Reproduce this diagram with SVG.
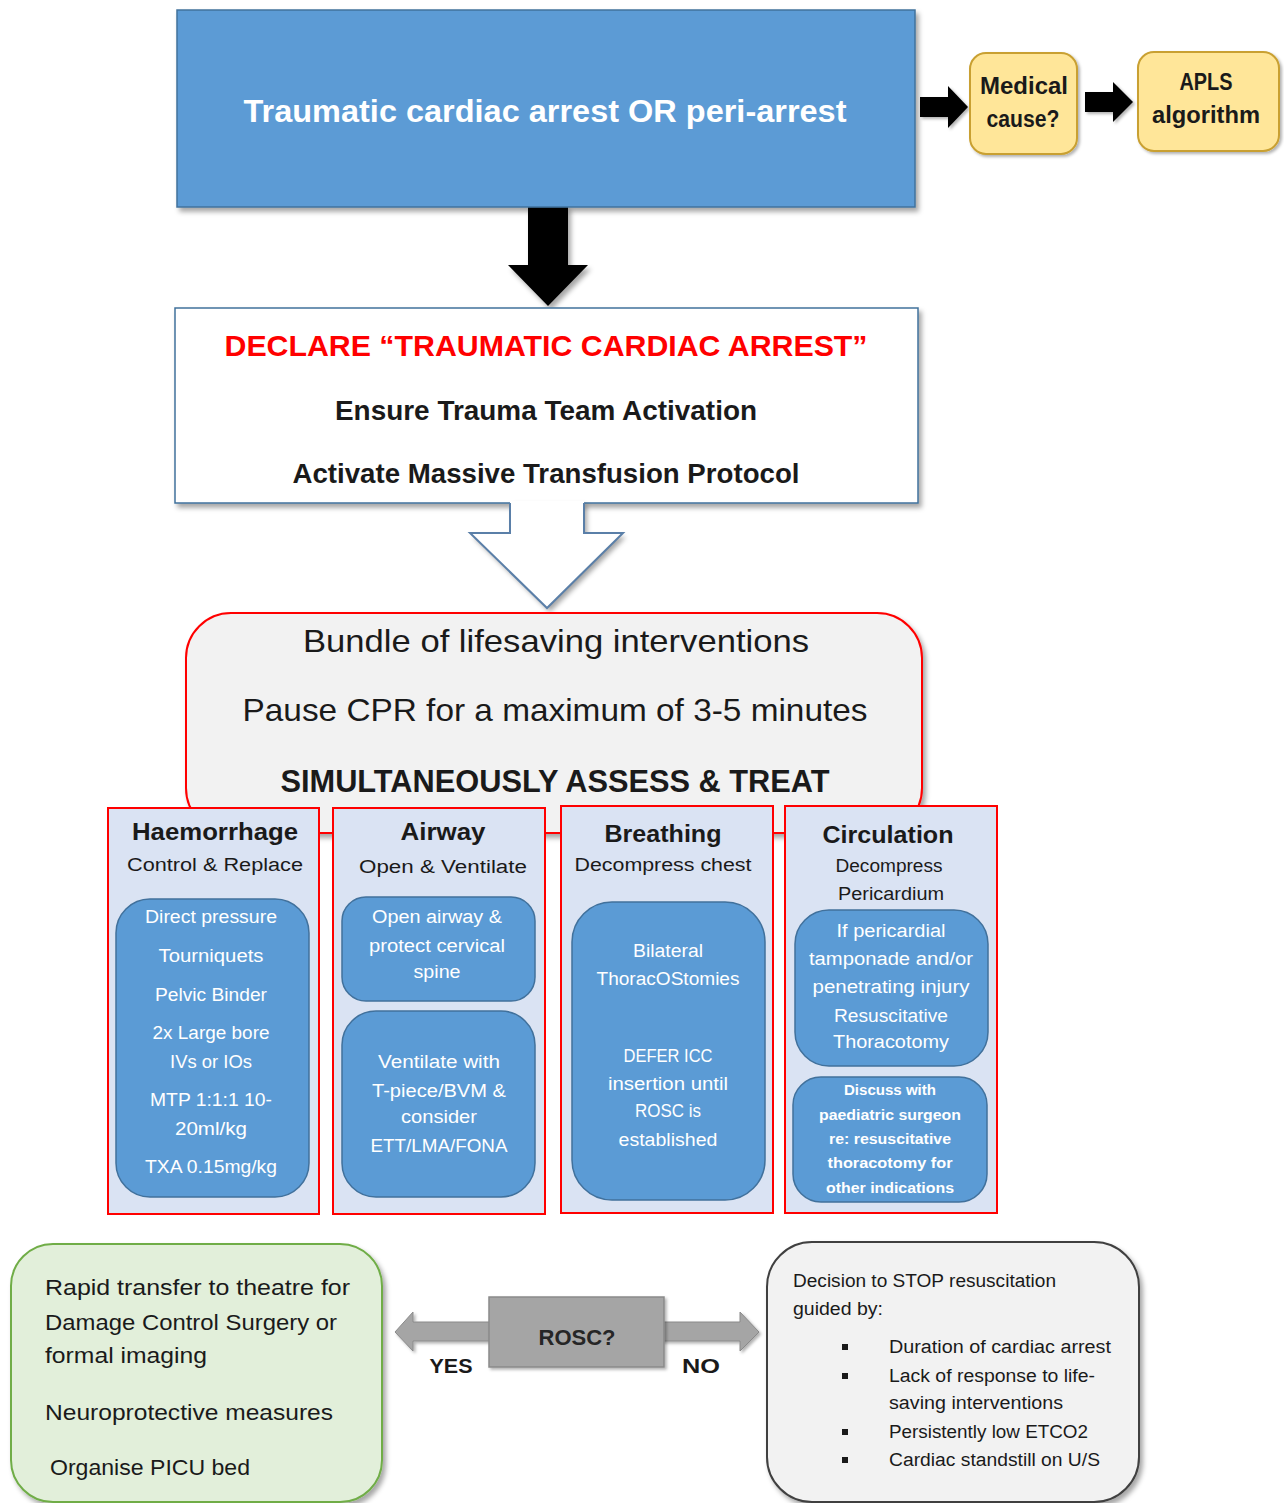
<svg xmlns="http://www.w3.org/2000/svg" width="1284" height="1503" viewBox="0 0 1284 1503">
<defs>
<filter id="sh" x="-10%" y="-10%" width="125%" height="130%"><feDropShadow dx="3" dy="4" stdDeviation="2.5" flood-color="#000" flood-opacity="0.35"/></filter>
<filter id="shs" x="-10%" y="-10%" width="125%" height="130%"><feDropShadow dx="2" dy="2" stdDeviation="1.5" flood-color="#000" flood-opacity="0.3"/></filter>
</defs>
<style>
text{font-family:"Liberation Sans",Arial,sans-serif;}
.b{font-weight:bold;}
.m{text-anchor:middle;}
.w{fill:#ffffff;}
.k{fill:#1a1a1a;}
.blue{fill:#5B9BD5;stroke:#41719C;stroke-width:1.5;}
.yel{fill:#FFE699;stroke:#C9A031;stroke-width:2;}
.col{fill:#DAE3F3;stroke:#FF0000;stroke-width:2;}
.inner{fill:#5B9BD5;stroke:#41719C;stroke-width:1.5;}
</style>
<rect x="0" y="0" width="1284" height="1503" fill="#ffffff"/>

<g id="connectors">
  <polygon points="528,206 568,206 568,265 588,265 548,306 508,265 528,265" fill="#000" filter="url(#sh)"/>
  <polygon points="920,97 948,97 948,86 968,107 948,128 948,117 920,117" fill="#000" filter="url(#shs)"/>
  <polygon points="1085,92 1113,92 1113,82 1133,102 1113,122 1113,112 1085,112" fill="#000" filter="url(#shs)"/>
</g>

<g id="node-traumatic">
  <rect x="177" y="10" width="738" height="197" class="blue" filter="url(#sh)"/>
  <text x="545" y="122" class="b m w" font-size="32" textLength="603" lengthAdjust="spacingAndGlyphs">Traumatic cardiac arrest OR peri-arrest</text>
</g>

<g id="node-medical">
  <rect x="970" y="53" width="107" height="101" rx="16" class="yel" filter="url(#shs)"/>
  <text x="1024" y="94" class="b m k" font-size="23" textLength="88" lengthAdjust="spacingAndGlyphs">Medical</text>
  <text x="1023" y="127" class="b m k" font-size="23" textLength="73" lengthAdjust="spacingAndGlyphs">cause?</text>
</g>

<g id="node-apls">
  <rect x="1138" y="52" width="141" height="99" rx="16" class="yel" filter="url(#shs)"/>
  <text x="1206" y="90" class="b m k" font-size="23" textLength="53" lengthAdjust="spacingAndGlyphs">APLS</text>
  <text x="1206" y="123" class="b m k" font-size="23" textLength="108" lengthAdjust="spacingAndGlyphs">algorithm</text>
</g>

<g id="node-declare">
  <rect x="175" y="308" width="743" height="195" fill="#ffffff" stroke="#41719C" stroke-width="1.5" filter="url(#sh)"/>
  <text x="546" y="356" class="b m" fill="#FF0000" font-size="30" textLength="643" lengthAdjust="spacingAndGlyphs">DECLARE “TRAUMATIC CARDIAC ARREST”</text>
  <text x="546" y="420" class="b m k" font-size="27" textLength="422" lengthAdjust="spacingAndGlyphs">Ensure Trauma Team Activation</text>
  <text x="546" y="483" class="b m k" font-size="27" textLength="507" lengthAdjust="spacingAndGlyphs">Activate Massive Transfusion Protocol</text>
</g>

<g id="connector-hollow">
  <polygon points="510,501 584,501 584,533 623,533 547,608 470,533 510,533" fill="#ffffff" filter="url(#sh)"/>
  <polyline points="510,503 510,533 470,533 547,608 623,533 584,533 584,503" fill="none" stroke="#5A7FA8" stroke-width="2" stroke-linejoin="miter"/>
</g>

<g id="node-bundle">
  <rect x="186" y="613" width="736" height="220" rx="45" fill="#F2F2F2" stroke="#FF0000" stroke-width="2" filter="url(#sh)"/>
  <text x="556" y="652" class="m k" font-size="32" textLength="506" lengthAdjust="spacingAndGlyphs">Bundle of lifesaving interventions</text>
  <text x="555" y="721" class="m k" font-size="32" textLength="625" lengthAdjust="spacingAndGlyphs">Pause CPR for a maximum of 3-5 minutes</text>
  <text x="555" y="792" class="b m k" font-size="31" textLength="549" lengthAdjust="spacingAndGlyphs">SIMULTANEOUSLY ASSESS &amp; TREAT</text>
</g>

<g id="node-haemorrhage">
  <rect x="108" y="808" width="211" height="406" class="col"/>
  <text x="215" y="840" class="b m k" font-size="23" textLength="166" lengthAdjust="spacingAndGlyphs">Haemorrhage</text>
  <text x="215" y="871" class="m k" font-size="18" textLength="176" lengthAdjust="spacingAndGlyphs">Control &amp; Replace</text>
  <rect x="116" y="899" width="193" height="298" rx="34" class="inner"/>
  <text x="211" y="923" class="m w" font-size="18" textLength="132" lengthAdjust="spacingAndGlyphs">Direct pressure</text>
  <text x="211" y="962" class="m w" font-size="18" textLength="105" lengthAdjust="spacingAndGlyphs">Tourniquets</text>
  <text x="211" y="1001" class="m w" font-size="18" textLength="112" lengthAdjust="spacingAndGlyphs">Pelvic Binder</text>
  <text x="211" y="1039" class="m w" font-size="18" textLength="117" lengthAdjust="spacingAndGlyphs">2x Large bore</text>
  <text x="211" y="1068" class="m w" font-size="18" textLength="82" lengthAdjust="spacingAndGlyphs">IVs or IOs</text>
  <text x="211" y="1106" class="m w" font-size="18" textLength="122" lengthAdjust="spacingAndGlyphs">MTP 1:1:1 10-</text>
  <text x="211" y="1135" class="m w" font-size="18" textLength="72" lengthAdjust="spacingAndGlyphs">20ml/kg</text>
  <text x="211" y="1173" class="m w" font-size="18" textLength="132" lengthAdjust="spacingAndGlyphs">TXA 0.15mg/kg</text>
</g>

<g id="node-airway">
  <rect x="333" y="808" width="212" height="406" class="col"/>
  <text x="443" y="840" class="b m k" font-size="23" textLength="85" lengthAdjust="spacingAndGlyphs">Airway</text>
  <text x="443" y="873" class="m k" font-size="18" textLength="168" lengthAdjust="spacingAndGlyphs">Open &amp; Ventilate</text>
  <rect x="342" y="897" width="193" height="104" rx="24" class="inner"/>
  <text x="437" y="923" class="m w" font-size="18" textLength="130" lengthAdjust="spacingAndGlyphs">Open airway &amp;</text>
  <text x="437" y="952" class="m w" font-size="18" textLength="136" lengthAdjust="spacingAndGlyphs">protect cervical</text>
  <text x="437" y="978" class="m w" font-size="18" textLength="47" lengthAdjust="spacingAndGlyphs">spine</text>
  <rect x="342" y="1011" width="193" height="186" rx="34" class="inner"/>
  <text x="439" y="1068" class="m w" font-size="18" textLength="122" lengthAdjust="spacingAndGlyphs">Ventilate with</text>
  <text x="439" y="1097" class="m w" font-size="18" textLength="134" lengthAdjust="spacingAndGlyphs">T-piece/BVM &amp;</text>
  <text x="439" y="1123" class="m w" font-size="18" textLength="76" lengthAdjust="spacingAndGlyphs">consider</text>
  <text x="439" y="1152" class="m w" font-size="18" textLength="137" lengthAdjust="spacingAndGlyphs">ETT/LMA/FONA</text>
</g>

<g id="node-breathing">
  <rect x="561" y="806" width="212" height="407" class="col"/>
  <text x="663" y="842" class="b m k" font-size="23" textLength="117" lengthAdjust="spacingAndGlyphs">Breathing</text>
  <text x="663" y="871" class="m k" font-size="18" textLength="177" lengthAdjust="spacingAndGlyphs">Decompress chest</text>
  <rect x="572" y="902" width="193" height="298" rx="40" class="inner"/>
  <text x="668" y="957" class="m w" font-size="18" textLength="70" lengthAdjust="spacingAndGlyphs">Bilateral</text>
  <text x="668" y="985" class="m w" font-size="18" textLength="143" lengthAdjust="spacingAndGlyphs">ThoracOStomies</text>
  <text x="668" y="1062" class="m w" font-size="18" textLength="89" lengthAdjust="spacingAndGlyphs">DEFER ICC</text>
  <text x="668" y="1090" class="m w" font-size="18" textLength="120" lengthAdjust="spacingAndGlyphs">insertion until</text>
  <text x="668" y="1117" class="m w" font-size="18" textLength="66" lengthAdjust="spacingAndGlyphs">ROSC is</text>
  <text x="668" y="1146" class="m w" font-size="18" textLength="99" lengthAdjust="spacingAndGlyphs">established</text>
</g>

<g id="node-circulation">
  <rect x="785" y="806" width="212" height="407" class="col"/>
  <text x="888" y="843" class="b m k" font-size="23" textLength="131" lengthAdjust="spacingAndGlyphs">Circulation</text>
  <text x="889" y="872" class="m k" font-size="18" textLength="107" lengthAdjust="spacingAndGlyphs">Decompress</text>
  <text x="891" y="900" class="m k" font-size="18" textLength="106" lengthAdjust="spacingAndGlyphs">Pericardium</text>
  <rect x="795" y="910" width="193" height="156" rx="34" class="inner"/>
  <text x="891" y="937" class="m w" font-size="18" textLength="109" lengthAdjust="spacingAndGlyphs">If pericardial</text>
  <text x="891" y="965" class="m w" font-size="18" textLength="164" lengthAdjust="spacingAndGlyphs">tamponade and/or</text>
  <text x="891" y="993" class="m w" font-size="18" textLength="157" lengthAdjust="spacingAndGlyphs">penetrating injury</text>
  <text x="891" y="1022" class="m w" font-size="18" textLength="114" lengthAdjust="spacingAndGlyphs">Resuscitative</text>
  <text x="891" y="1048" class="m w" font-size="18" textLength="116" lengthAdjust="spacingAndGlyphs">Thoracotomy</text>
  <rect x="793" y="1077" width="194" height="125" rx="28" class="inner"/>
  <text x="890" y="1095" class="b m w" font-size="14" textLength="92" lengthAdjust="spacingAndGlyphs">Discuss with</text>
  <text x="890" y="1120" class="b m w" font-size="14" textLength="142" lengthAdjust="spacingAndGlyphs">paediatric surgeon</text>
  <text x="890" y="1144" class="b m w" font-size="14" textLength="122" lengthAdjust="spacingAndGlyphs">re: resuscitative</text>
  <text x="890" y="1168" class="b m w" font-size="14" textLength="125" lengthAdjust="spacingAndGlyphs">thoracotomy for</text>
  <text x="890" y="1193" class="b m w" font-size="14" textLength="128" lengthAdjust="spacingAndGlyphs">other indications</text>
</g>

<g id="connector-rosc">
  <polygon points="395,1332 413,1312 413,1322 740,1322 740,1312 759,1332 740,1351 740,1341 413,1341 413,1351" fill="#A5A5A5" stroke="#8A8A8A" stroke-width="1" filter="url(#shs)"/>
  <text x="451" y="1373" class="b m k" font-size="21" textLength="43" lengthAdjust="spacingAndGlyphs">YES</text>
  <text x="701" y="1373" class="b m k" font-size="21" textLength="38" lengthAdjust="spacingAndGlyphs">NO</text>
</g>

<g id="node-rosc">
  <rect x="489" y="1297" width="175" height="70" fill="#A5A5A5" stroke="#8A8A8A" stroke-width="1.5" filter="url(#shs)"/>
  <text x="577" y="1345" class="b m" fill="#262626" font-size="22" textLength="77" lengthAdjust="spacingAndGlyphs">ROSC?</text>
</g>

<g id="node-rapid">
  <rect x="11" y="1244" width="371" height="258" rx="42" fill="#E2EFDA" stroke="#70AD47" stroke-width="2" filter="url(#sh)"/>
  <text x="45" y="1295" class="k" font-size="22" textLength="305" lengthAdjust="spacingAndGlyphs">Rapid transfer to theatre for</text>
  <text x="45" y="1330" class="k" font-size="22" textLength="292" lengthAdjust="spacingAndGlyphs">Damage Control Surgery or</text>
  <text x="45" y="1363" class="k" font-size="22" textLength="162" lengthAdjust="spacingAndGlyphs">formal imaging</text>
  <text x="45" y="1420" class="k" font-size="22" textLength="288" lengthAdjust="spacingAndGlyphs">Neuroprotective measures</text>
  <text x="50" y="1475" class="k" font-size="22" textLength="200" lengthAdjust="spacingAndGlyphs">Organise PICU bed</text>
</g>

<g id="node-stop">
  <rect x="767" y="1242" width="372" height="260" rx="45" fill="#F2F2F2" stroke="#404040" stroke-width="2" filter="url(#sh)"/>
  <text x="793" y="1287" class="k" font-size="18" textLength="263" lengthAdjust="spacingAndGlyphs">Decision to STOP resuscitation</text>
  <text x="793" y="1315" class="k" font-size="18" textLength="90" lengthAdjust="spacingAndGlyphs">guided by:</text>
  <rect x="842" y="1344" width="6" height="6" fill="#1a1a1a"/>
  <text x="889" y="1353" class="k" font-size="18" textLength="222" lengthAdjust="spacingAndGlyphs">Duration of cardiac arrest</text>
  <rect x="842" y="1373" width="6" height="6" fill="#1a1a1a"/>
  <text x="889" y="1382" class="k" font-size="18" textLength="206" lengthAdjust="spacingAndGlyphs">Lack of response to life-</text>
  <text x="889" y="1409" class="k" font-size="18" textLength="174" lengthAdjust="spacingAndGlyphs">saving interventions</text>
  <rect x="842" y="1429" width="6" height="6" fill="#1a1a1a"/>
  <text x="889" y="1438" class="k" font-size="18" textLength="199" lengthAdjust="spacingAndGlyphs">Persistently low ETCO2</text>
  <rect x="842" y="1457" width="6" height="6" fill="#1a1a1a"/>
  <text x="889" y="1466" class="k" font-size="18" textLength="211" lengthAdjust="spacingAndGlyphs">Cardiac standstill on U/S</text>
</g>
</svg>
